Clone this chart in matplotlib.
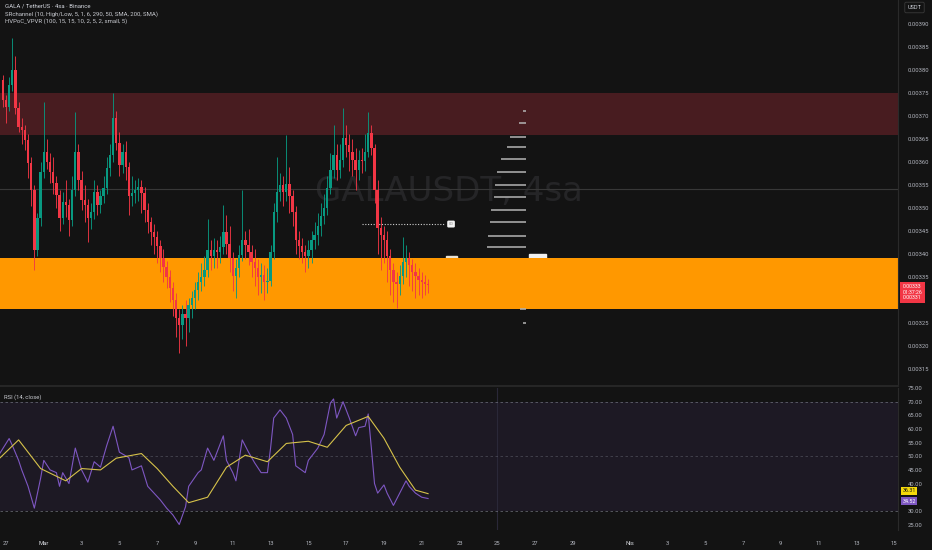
import numpy as np
import pandas as pd
import matplotlib
matplotlib.use("Agg")
import matplotlib.pyplot as plt
import matplotlib.dates as mdates
import matplotlib.transforms as mtrans
from matplotlib.patches import Rectangle

# GALA / USDT, 4h candles, prices in units of 1e-5 USDT
first_open = 377.8
close = [373.5, 371.9, 376.7, 380.0, 371.7, 367.6, 366.9, 364.8, 359.8, 353.9,
         340.9, 347.8, 357.8, 362.2, 360.0, 357.8, 355.4, 352.8, 347.8, 351.3,
         350.6, 347.4, 353.9, 362.2, 356.1, 351.7, 350.6, 347.8, 349.1, 353.5,
         350.6, 352.6, 354.3, 358.7, 361.5, 369.6, 364.1, 359.3, 362.2, 358.9,
         352.6, 353.2, 353.9, 354.5, 353.2, 349.5, 346.9, 344.8, 343.7, 341.7,
         339.1, 337.2, 335.0, 332.6, 330.0, 326.1, 324.6, 326.9, 326.1, 328.9,
         330.4, 332.2, 333.9, 335.0, 336.5, 340.9, 339.5, 340.9, 340.4, 341.5,
         344.8, 342.2, 339.1, 335.2, 336.9, 339.8, 343.0, 341.9, 340.4, 338.2,
         336.9, 335.0, 335.4, 333.9, 334.1, 340.4, 349.1, 353.5, 355.0, 353.5,
         355.2, 352.6, 349.1, 343.0, 341.7, 340.4, 339.5, 340.9, 343.0, 344.1,
         346.1, 348.2, 350.0, 354.3, 358.2, 361.5, 358.2, 360.4, 365.2, 363.7,
         362.2, 360.4, 358.2, 360.4, 360.2, 362.2, 366.3, 363.0, 353.9, 345.6,
         344.1, 343.0, 339.5, 336.5, 333.9, 333.5, 335.2, 338.2, 339.1, 337.6,
         336.1, 335.2, 334.3, 333.9, 333.5, 333.2]
high = [379.0, 374.5, 378.5, 386.9, 383.0, 373.0, 369.5, 368.0, 366.0, 361.0,
        355.0, 349.0, 360.0, 373.0, 365.0, 362.0, 361.0, 357.0, 354.0, 353.5,
        356.0, 352.0, 357.0, 370.9, 364.0, 358.0, 355.0, 352.0, 351.0, 356.0,
        355.0, 354.0, 357.0, 361.0, 364.0, 375.0, 371.0, 366.5, 364.0, 364.5,
        360.0, 357.0, 356.0, 356.5, 356.0, 354.5, 351.0, 348.0, 346.5, 345.0,
        343.0, 341.0, 338.5, 336.5, 334.0, 331.5, 328.0, 329.0, 330.0, 330.5,
        332.0, 334.0, 336.0, 338.0, 339.5, 347.6, 343.0, 343.5, 343.0, 344.0,
        350.6, 348.5, 346.0, 340.5, 339.0, 342.0, 353.9, 345.0, 345.5, 342.0,
        341.0, 339.0, 338.0, 337.5, 337.0, 342.0, 351.0, 361.1, 357.5, 357.0,
        365.9, 359.0, 354.0, 350.5, 345.0, 343.5, 342.0, 343.0, 345.0, 347.0,
        349.0, 351.0, 353.0, 357.0, 362.0, 368.0, 364.0, 364.0, 371.7, 368.0,
        366.0, 365.0, 363.0, 362.5, 363.0, 366.0, 370.9, 368.0, 364.0, 356.0,
        348.0, 346.0, 345.0, 341.0, 338.0, 336.0, 337.5, 343.7, 342.0, 340.5,
        339.0, 338.0, 337.0, 336.0, 335.5, 334.5]
low = [372.0, 368.5, 371.0, 375.5, 370.5, 366.5, 364.0, 362.5, 356.5, 350.5,
       336.5, 339.5, 346.0, 356.5, 358.5, 355.5, 353.0, 350.0, 345.0, 346.5,
       348.0, 344.0, 346.0, 352.5, 354.0, 349.5, 347.0, 342.5, 345.5, 347.5,
       348.5, 349.0, 351.0, 353.0, 357.0, 360.0, 362.5, 357.0, 357.5, 356.0,
       348.5, 350.5, 351.0, 351.5, 349.0, 347.0, 344.5, 342.0, 340.0, 338.0,
       336.0, 334.0, 332.5, 329.5, 326.5, 322.0, 318.5, 321.5, 320.0, 323.0,
       326.0, 328.0, 330.0, 332.0, 333.0, 335.0, 336.5, 337.0, 337.0, 338.0,
       340.0, 340.0, 336.0, 332.0, 330.5, 335.0, 338.5, 339.0, 337.5, 335.0,
       333.0, 331.0, 331.5, 330.0, 331.5, 333.0, 339.0, 347.0, 351.5, 350.5,
       351.5, 349.0, 346.0, 340.0, 339.0, 338.0, 336.0, 337.0, 338.0, 341.0,
       342.0, 344.0, 346.5, 348.5, 353.0, 356.5, 356.0, 356.5, 359.0, 361.0,
       358.0, 357.0, 354.0, 356.0, 357.5, 358.0, 361.0, 361.5, 351.0, 340.0,
       336.5, 338.0, 334.0, 331.0, 329.5, 328.3, 331.0, 333.5, 335.0, 333.0,
       332.0, 330.5, 331.0, 330.5, 331.0, 331.5]

# RSI(14) and its moving average, read at candle indices
rsi_idx = [-1, 2, 3, 5, 6, 8, 10, 12, 13, 15, 17, 18, 19, 21, 23, 25, 27, 29, 31, 33,
           35, 37, 40, 41, 44, 46, 48, 50, 52, 54, 56, 58, 59, 62, 63, 65, 67, 70, 71, 73,
           74, 76, 78, 80, 82, 84, 85, 86, 88, 90, 92, 93, 96, 97, 100, 102, 104, 105, 106, 108,
           110, 112, 113, 115, 116, 117, 118, 119, 121, 122, 124, 126, 128, 129, 131, 133, 135]
rsi_val = [51, 56.5, 54, 48.5, 45, 39, 31, 42, 48.5, 45, 44, 39, 44, 40, 53, 45, 40.5, 48, 46, 54,
           61, 51.5, 49.5, 45, 46.5, 39, 36.5, 34, 31, 28.5, 25, 31.5, 39, 44, 45, 53, 48.5, 57.5, 48.5, 44,
           41, 56, 51.5, 47.5, 44, 44, 53, 64, 67, 64, 58, 46.5, 44, 48.5, 53, 58, 69.5, 71, 64, 70,
           64, 57.5, 60.5, 61, 65.5, 53, 40, 36.5, 39.5, 36.5, 32, 36.5, 41, 39, 36.5, 35, 34.52]
ma_idx = [-1, 5, 12, 20, 25, 31, 36, 44, 49, 54, 59, 65, 71, 77, 84, 90, 97, 103, 109, 116,
          121, 126, 131, 135]
ma_val = [49.3, 56, 45.5, 41, 45.5, 45, 49.3, 51, 45.5, 39, 33, 35, 46, 50.4, 48, 54.7, 55.5, 53.3, 61.3, 64.6,
          56.6, 46, 37.6, 36.31]

# zones and levels (1e-5 USDT)
supply_zone = (365.9, 375.0)
demand_zone = (328.0, 339.1)
sr_line = 354.1
dot_level = 346.5
# volume profile rows: price, length in days
vp_price = [371.1, 368.5, 365.4, 363.2, 360.6, 357.8, 355.0, 352.4, 349.5, 346.9, 343.9, 341.5, 328.0, 325.0]
vp_len = [0.16, 0.37, 0.84, 1.0, 1.32, 1.53, 1.64, 1.69, 1.85, 1.9, 2.01, 2.05, 0.31, 0.16]

tick_days = ["02-27", "03-01", "03-03", "03-05", "03-07", "03-09", "03-11", "03-13",
             "03-15", "03-17", "03-19", "03-21", "03-23", "03-25", "03-27", "03-29",
             "04-01", "04-03", "04-05", "04-07", "04-09", "04-11", "04-13", "04-15"]
tick_text = ["27", "Mar", "3", "5", "7", "9", "11", "13", "15", "17", "19", "21", "23",
             "25", "27", "29", "Nis", "3", "5", "7", "9", "11", "13", "15"]

BG = "#131313"
GREEN = "#089981"
RED = "#f23645"
TXT = "#b2b5be"
FONT = "Roboto"
S = 1e-5

c = np.array(close) * S
o = np.array([first_open] + close[:-1]) * S
h = np.maximum(np.array(high) * S, np.maximum(o, c))
l = np.minimum(np.array(low) * S, np.minimum(o, c))

times = pd.date_range("2025-02-26 20:00", periods=len(close), freq="4h")
t = mdates.date2num(times)
step = 1 / 6
t0 = mdates.date2num(pd.Timestamp("2025-02-27"))

fig = plt.figure(figsize=(9.32, 5.5), dpi=100, facecolor=BG)
ax = fig.add_axes([0, 0.2982, 898 / 932, 0.7018], facecolor=BG)
rs = fig.add_axes([0, 0.0364, 898 / 932, 0.2945 - 0.0364], facecolor=BG, sharex=ax)

# zones
ax.axhspan(supply_zone[0] * S, supply_zone[1] * S, color="#481c20", zorder=1, lw=0)
ax.axhspan(demand_zone[0] * S, demand_zone[1] * S, color="#ff9800", zorder=2, lw=0)
ax.axhline(sr_line * S, color="#383838", lw=0.8, zorder=1)

ax.text(0.5, 0.505, "GALAUSDT, 4sa", transform=ax.transAxes, ha="center", va="center",
        fontsize=24.5, color="#252527", family="DejaVu Sans", zorder=0.5)

# candles
cols = np.where(c >= o, GREEN, RED)
ax.vlines(t, l, h, colors=cols, lw=0.7, alpha=0.9, zorder=3)
body = np.maximum(np.abs(c - o), 0.15 * S)
ax.bar(t, body, bottom=np.minimum(o, c), width=0.125, color=cols, lw=0, zorder=4)

# volume profile rows
vp_end = t0 + 27.51
for p, ln in zip(vp_price, vp_len):
    ax.hlines(p * S, vp_end - ln, vp_end, color="#b4b4b4", lw=1.1, zorder=3)

# hidden label slivers above demand zone
ax.add_patch(Rectangle((t0 + 23.3, 336.0 * S), 0.55, 3.6 * S, color="#e8e2d6", zorder=1.5))
ax.add_patch(Rectangle((t0 + 27.7, 336.0 * S), 0.85, 4.0 * S, color="#f0f0f0", zorder=1.5))

# dotted level with label
ax.hlines(dot_level * S, t0 + 18.85, t0 + 23.2, color="#d0d0d0", lw=0.8,
          linestyles=(0, (1, 1.5)), zorder=3)
ax.text(t0 + 23.55, dot_level * S, "00", fontsize=3, color="#888888", ha="center", va="center",
        family=FONT, zorder=5,
        bbox=dict(boxstyle="round,pad=0.35,rounding_size=0.3", fc="#f2f2f2", ec="none"))

x0 = t0 - 0.317
x1 = t0 + 47.2
ax.set_xlim(x0, x1)
ax.set_ylim(311.3 * S, 395.2 * S)

price_ticks = [v for v in range(315, 391, 5) if v != 330]
ax.yaxis.tick_right()
ax.set_yticks([v * S for v in price_ticks])
ax.set_yticklabels([f"{v * S:.5f}" for v in price_ticks])
ax.tick_params(axis="y", length=0, pad=7, labelsize=4.2, labelcolor=TXT)
ax.tick_params(axis="x", bottom=False, labelbottom=False)
for lab in ax.get_yticklabels():
    lab.set_family(FONT)
for side in ["top", "left"]:
    ax.spines[side].set_visible(False)
ax.spines["right"].set_color("#2a2a2a")
ax.spines["bottom"].set_color("#262626")
ax.spines["bottom"].set_linewidth(1.5)

# last price label
blend = mtrans.blended_transform_factory(ax.transAxes, ax.transData)
ax.text(1.005, c[-1] - 1.5 * S, "0.00333\n01:37:26\n0.00331", transform=blend, fontsize=3.7,
        color="white", va="center", ha="left", family=FONT, linespacing=1.15, clip_on=False,
        bbox=dict(boxstyle="square,pad=0.45", fc=RED, ec="none"), zorder=6)

# legend lines
fig.text(0.005, 1 - 6.5 / 550, "GALA / TetherUS · 4sa · Binance", fontsize=4.3, color="#d1d4dc",
         va="center", family=FONT)
fig.text(0.005, 1 - 14 / 550, "SRchannel (10, High/Low, 5, 1, 6, 290, 50, SMA, 200, SMA)",
         fontsize=4.3, color="#c8cad0", va="center", family=FONT)
fig.text(0.005, 1 - 21.5 / 550, "HVPoC_VPVR (100, 15, 15, 10, 2, 5, 2, small, 5)", fontsize=4.3,
         color="#c8cad0", va="center", family=FONT)
fig.text(914.5 / 932, 1 - 7.5 / 550, "USDT", fontsize=4, color="#d1d4dc", ha="center",
         va="center", family=FONT,
         bbox=dict(boxstyle="round,pad=0.5,rounding_size=0.25", fc=BG, ec="#3a3a3a", lw=0.6))

# RSI panel
rt = t[0] + np.array(rsi_idx) * step
mt = t[0] + np.array(ma_idx) * step
rs.axhspan(30, 70, color="#7e57c2", alpha=0.1, lw=0, zorder=0)
for lv, a in [(70, 0.75), (50, 0.45), (30, 0.75)]:
    rs.axhline(lv, color="#787b86", lw=0.6, ls=(0, (3, 3)), alpha=a, zorder=1)
rs.axvline(t0 + 26.0, color="#2a2838", lw=0.8, zorder=0.5)
rs.plot(rt, rsi_val, color="#7e57c2", lw=0.8, zorder=3)
rs.plot(mt, ma_val, color="#d6c24a", lw=0.8, zorder=4)
rs.set_ylim(23.0, 74.8)
rs.yaxis.tick_right()
rsi_ticks = [75, 70, 65, 60, 55, 50, 45, 40, 30, 25]
rs.set_yticks(rsi_ticks)
rs.set_yticklabels([f"{v:.2f}" for v in rsi_ticks])
rs.tick_params(axis="y", length=0, pad=7, labelsize=4.2, labelcolor=TXT)
for lab in rs.get_yticklabels():
    lab.set_family(FONT)
for side in ["top", "left", "bottom"]:
    rs.spines[side].set_visible(False)
rs.spines["right"].set_color("#2a2a2a")
rs.text(0.005, 0.935, "RSI (14, close)", transform=rs.transAxes, fontsize=4.2, color="#c8cad0",
        va="center", family=FONT)

rblend = mtrans.blended_transform_factory(rs.transAxes, rs.transData)
rs.text(1.005, ma_val[-1] + 1.0, f"{ma_val[-1]:.2f}", transform=rblend, fontsize=3.8, color="#131313",
        va="center", family=FONT, clip_on=False,
        bbox=dict(boxstyle="square,pad=0.3", fc="#f5d90a", ec="none"))
rs.text(1.005, rsi_val[-1] - 1.0, f"{rsi_val[-1]:.2f}", transform=rblend, fontsize=3.8, color="white",
        va="center", family=FONT, clip_on=False,
        bbox=dict(boxstyle="square,pad=0.3", fc="#7e57c2", ec="none"))

# time axis
tick_pos = [mdates.date2num(pd.Timestamp("2025-" + d)) for d in tick_days]
rs.set_xticks(tick_pos)
rs.set_xticklabels(tick_text)
rs.tick_params(axis="x", length=0, pad=8, labelsize=4.2, labelcolor=TXT)
for lab in rs.get_xticklabels():
    lab.set_family(FONT)
    if lab.get_text() in ("Mar", "Nis"):
        lab.set_color("#d8dae0")
rs.set_xlim(x0, x1)

fig.savefig("out.png", dpi=100, facecolor=BG)
